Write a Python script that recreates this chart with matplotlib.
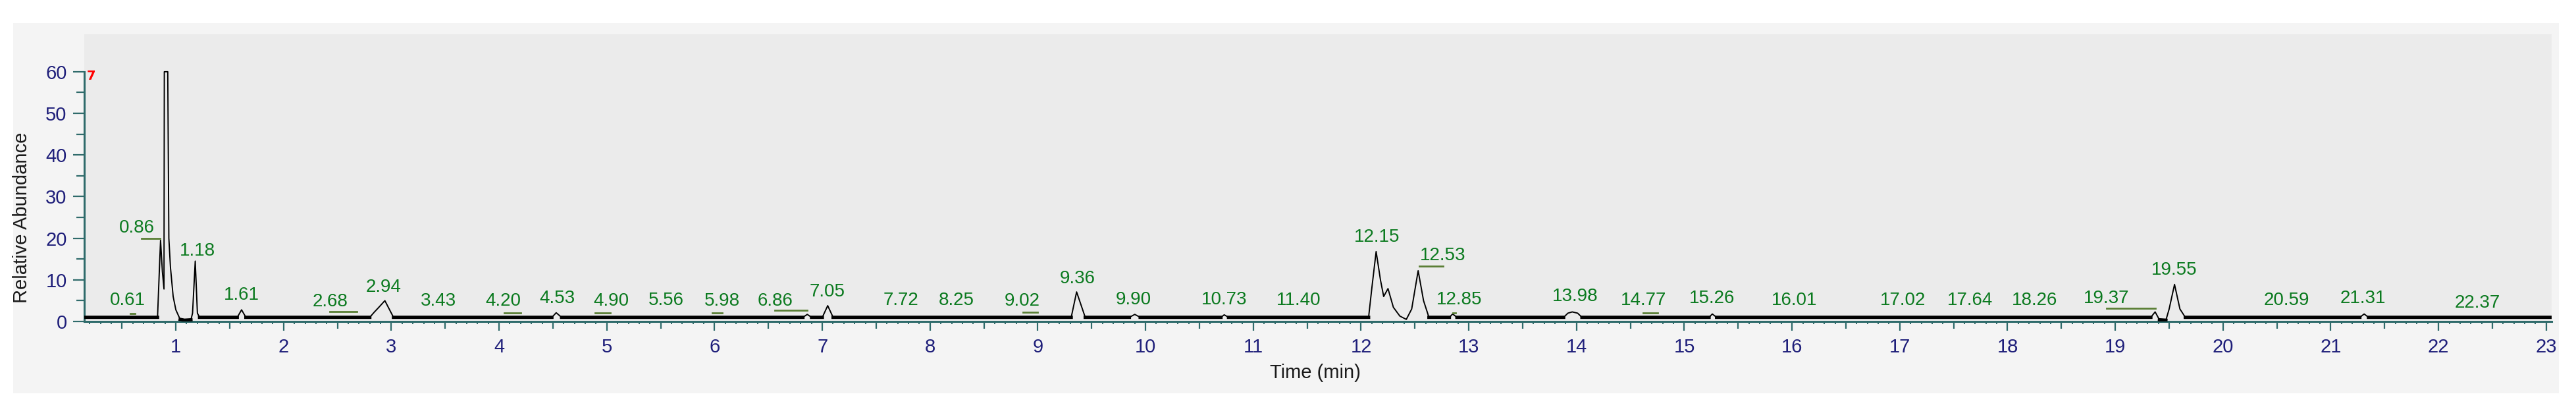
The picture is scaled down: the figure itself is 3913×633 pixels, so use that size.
import numpy as np
import matplotlib
matplotlib.use("Agg")
from matplotlib import pyplot as plt
from matplotlib.patches import Rectangle
from matplotlib.ticker import FixedLocator, MultipleLocator, NullFormatter

# chromatogram trace (time in min, relative abundance)
trace_t = [0.15, 0.83, 0.845, 0.858, 0.875, 0.89, 0.893, 0.925, 0.935, 0.95, 0.975, 1.0, 1.04, 1.08,
           1.14, 1.155, 1.18, 1.2, 1.22, 1.57, 1.61, 1.65, 2.80, 2.84, 2.88, 2.94, 2.98, 3.02,
           4.49, 4.53, 4.58, 6.82, 6.86, 6.9, 7.0, 7.05, 7.1, 9.31, 9.36, 9.44, 9.85, 9.9, 9.95,
           10.70, 10.73, 10.77, 12.07, 12.10, 12.14, 12.18, 12.21, 12.25, 12.30, 12.36, 12.42,
           12.47, 12.53, 12.58, 12.63, 12.82, 12.85, 12.89, 13.88, 13.92, 13.96, 14.01, 14.05,
           15.23, 15.26, 15.30, 19.33, 19.37, 19.41, 19.47, 19.50, 19.55, 19.60, 19.65,
           21.27, 21.31, 21.35, 23.05]
trace_v = [1.0, 1.0, 11, 19.5, 12, 7.8, 60, 60, 20, 13, 6, 2.8, 0.5, 0.3,
           0.4, 2, 14.5, 2, 1.0, 1.0, 2.8, 1.0, 1.0, 2.2, 3.3, 5.0, 3.0, 1.0,
           1.0, 2.1, 1.0, 1.0, 1.7, 1.0, 1.0, 3.8, 1.0, 1.0, 7.1, 1.0, 1.0, 1.7, 1.0,
           1.0, 1.6, 1.0, 1.0, 8, 16.8, 10, 6.0, 7.9, 3.4, 1.3, 0.5,
           3, 12.2, 5, 1.0, 1.0, 1.8, 1.0, 1.0, 2.0, 2.3, 2.0, 1.0,
           1.0, 1.8, 1.0, 1.0, 2.3, 0.4, 0.3, 3, 8.9, 3, 1.0,
           1.0, 1.8, 1.0, 1.0]

# peak labels: text, label centre (time, abundance)
peak_labels = ["0.61", "0.86", "1.18", "1.61", "2.68", "2.94", "3.43", "4.20", "4.53", "4.90",
               "5.56", "5.98", "6.86", "7.05", "7.72", "8.25", "9.02", "9.36", "9.90", "10.73",
               "11.40", "12.15", "12.53", "12.85", "13.98", "14.77", "15.26", "16.01", "17.02",
               "17.64", "18.26", "19.37", "19.55", "20.59", "21.31", "22.37"]
label_t = [0.55, 0.64, 1.20, 1.61, 2.43, 2.93, 3.435, 4.04, 4.54, 5.04,
           5.553, 6.07, 6.565, 7.047, 7.727, 8.247, 8.858, 9.369, 9.89, 10.73,
           11.42, 12.15, 12.76, 12.91, 13.99, 14.62, 15.26, 16.02, 17.03,
           17.65, 18.25, 18.92, 19.55, 20.59, 21.30, 22.36]
label_v = [5.0, 22.4, 17.0, 6.3, 4.7, 8.2, 4.9, 4.9, 5.5, 4.9,
           5.0, 4.9, 4.9, 7.1, 5.0, 5.0, 4.9, 10.3, 5.2, 5.2,
           5.0, 20.3, 15.8, 5.2, 6.0, 5.0, 5.6, 5.0, 5.0,
           5.0, 5.0, 5.6, 12.4, 5.0, 5.5, 4.4]

# leader lines from peak to shifted label: start time, end time, abundance
leader_t0 = [0.58, 0.68, 2.43, 4.05, 4.89, 5.98, 6.56, 8.86, 12.54, 12.85, 14.62, 18.92]
leader_t1 = [0.62, 0.855, 2.68, 4.20, 5.03, 6.07, 6.86, 9.00, 12.76, 12.88, 14.75, 19.37]
leader_v = [1.9, 19.9, 2.4, 2.0, 2.0, 2.0, 2.7, 2.2, 13.3, 2.0, 2.0, 3.1]

W, H = 3913, 633
fig = plt.figure(figsize=(W / 100, H / 100), dpi=100)
fig.patch.set_facecolor('white')
fig.patches.append(Rectangle((20 / W, 1 - 597 / H), (3887 - 20) / W, (597 - 35) / H,
                             transform=fig.transFigure, facecolor='#F4F4F4',
                             edgecolor='none', zorder=-1))

ax = fig.add_axes([128 / W, 1 - 488 / H, (3876 - 128) / W, (488 - 52) / H])
ax.set_zorder(1)
ax.set_facecolor('#EBEBEB')
ax.set_xlim(0.15, 23.05)
ax.set_ylim(0, 69)

t = np.array(trace_t)
v = np.array(trace_v)
ax.plot(t, v, color='black', lw=1.4, zorder=3)
# noisy baseline band
ax.plot(t, np.where(v <= 1.2, v, np.nan), color='black', lw=3.6, zorder=3)

green = '#0B7A1F'
for txt, x, y in zip(peak_labels, label_t, label_v):
    ax.text(x, y, txt, color=green, fontsize=20, ha='center', va='center',
            family='Liberation Sans', zorder=4)
for a, b, y in zip(leader_t0, leader_t1, leader_v):
    ax.plot([a, b], [y, y], color='#5A7F35', lw=2, zorder=4)

ax.text(0.17, 60.5, '7', color='red', fontsize=14, fontweight='bold', ha='left', va='top')

axcol = '#2F6B6B'
for s in ['top', 'right']:
    ax.spines[s].set_visible(False)
ax.spines['left'].set_bounds(0, 60)
for s in ['left', 'bottom']:
    ax.spines[s].set_color(axcol)
    ax.spines[s].set_linewidth(2.2)

ax.yaxis.set_major_locator(FixedLocator(range(0, 61, 10)))
ax.yaxis.set_minor_locator(FixedLocator(range(5, 60, 10)))
ax.xaxis.set_major_locator(MultipleLocator(0.5))
ax.xaxis.set_minor_locator(MultipleLocator(0.1))
ax.xaxis.set_minor_formatter(NullFormatter())
ax.xaxis.set_major_formatter(lambda x, pos: '%d' % round(x) if abs(x - round(x)) < 1e-6 else '')

ax.tick_params(axis='y', which='major', length=12, width=1.6, color=axcol, pad=7,
               labelsize=21, labelcolor='#1F1F7A')
ax.tick_params(axis='y', which='minor', length=8.5, width=1.6, color=axcol)
ax.tick_params(axis='x', which='major', length=10, width=1.6, color=axcol, pad=8,
               labelsize=21, labelcolor='#1F1F7A')
ax.tick_params(axis='x', which='minor', length=3, width=1.4, color=axcol)
for lab in ax.get_xticklabels() + ax.get_yticklabels():
    lab.set_family('Liberation Sans')

fig.canvas.draw()
for tk, loc in zip(ax.xaxis.get_major_ticks(), ax.xaxis.get_majorticklocs()):
    if abs(loc - round(loc)) > 1e-6:
        tk.tick1line.set_markersize(8)

fig.text(1998 / W, 1 - 566 / H, 'Time (min)', fontsize=21, ha='center', va='center',
         color='#1A1A1A', family='Liberation Sans')
fig.text(33 / W, 1 - 330 / H, 'Relative Abundance', fontsize=21, ha='center', va='center',
         rotation=90, color='#1A1A1A', family='Liberation Sans')

fig.savefig('out.png', dpi=100)
